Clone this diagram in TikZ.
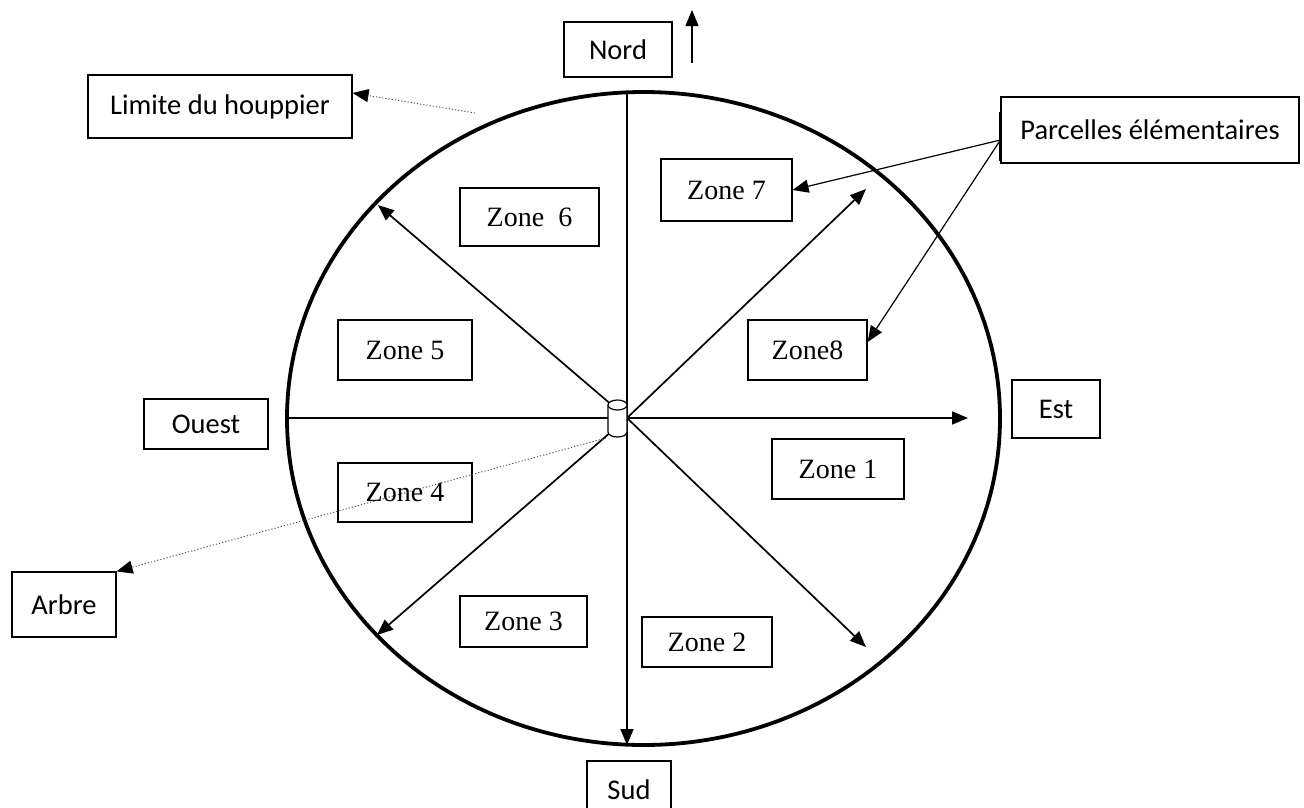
\documentclass[tikz,border=0pt]{standalone}
\usepackage{fontspec}
\setmainfont{Liberation Serif}
\newfontfamily\calibri{Carlito}
\usetikzlibrary{arrows.meta}

\begin{document}
\begin{tikzpicture}[x=1pt, y=-1pt]
	\tikzset{
		box/.style={draw, line width=1.2pt, inner sep=0pt, font=\calibri\fontsize{28.5}{33}\selectfont},
		zone node/.style={draw, line width=1.2pt, inner sep=0pt, font=\fontsize{28}{33}\selectfont},
		ray/.style={line width=1.7pt, -{Triangle[length=16pt, width=13pt]}},
		pointer/.style={line width=1.2pt, -{Triangle[length=16pt, width=13pt]}},
		hint/.style={line width=0.9pt, black!70, dash pattern=on 1.2pt off 2pt, -{Triangle[length=16pt, width=13pt, black]}}
	}
	\useasboundingbox (0,0) rectangle (1304,807);

	% Crown limit
	\draw[line width=3.8pt] (643.5,418.5) ellipse [x radius=356.5, y radius=326.5];

	% Center and ray ends
	\coordinate (c) at (627,418);
	\coordinate (n) at (627,92);
	\coordinate (s) at (627,745);
	\coordinate (w) at (287,418);
	\coordinate (e) at (968,418);
	\coordinate (nw) at (378,205);
	\coordinate (ne) at (866,189);
	\coordinate (sw) at (377,635);
	\coordinate (se) at (866,647);

	\draw[ray] (n) -- (s);
	\draw[line width=1.7pt] (w) -- (c);
	\draw[ray] (c) -- (e);
	\foreach \t in {nw,ne,sw,se} {
		\draw[ray] (c) -- (\t);
	}

	% Tree
	\filldraw[fill=white, line width=1.2pt] (608,405) -- (608,432) arc[start angle=180, end angle=0, x radius=9.5, y radius=5] -- (627,405);
	\filldraw[fill=white, line width=1.2pt] (617.5,405) ellipse [x radius=9.5, y radius=5];
	\coordinate (foot) at (606,438);

	% Zones
	\node (z7) at (726.5,190) [zone node, minimum width=131pt, minimum height=62pt] {Zone 7};
	\node (z6) at (529.5,217) [zone node, minimum width=139pt, minimum height=58pt] {Zone~~6};
	\node (z5) at (405,350) [zone node, minimum width=134pt, minimum height=60pt] {Zone 5};
	\node (z8) at (807.5,350) [zone node, minimum width=119pt, minimum height=60pt] {Zone8};
	\node (z1) at (838,469) [zone node, minimum width=132pt, minimum height=60pt] {Zone 1};
	\node (z4) at (405,492.5) [zone node, minimum width=134pt, minimum height=59pt] {Zone 4};
	\node (z3) at (523.5,621.5) [zone node, minimum width=127pt, minimum height=51pt] {Zone 3};
	\node (z2) at (707,642) [zone node, minimum width=130pt, minimum height=50pt] {Zone 2};

	% Cardinal points
	\node (nord) at (618,49.5) [box, minimum width=108pt, minimum height=55pt] {Nord};
	\node (sud) at (629,790) [box, minimum width=84pt, minimum height=58pt] {Sud};
	\node (ouest) at (206,424) [box, minimum width=124pt, minimum height=50pt] {Ouest};
	\node (est) at (1056,409) [box, minimum width=88pt, minimum height=58pt] {Est};
	\coordinate (nbase) at (692,63);
	\coordinate (ntip) at (692,10);
	\draw[pointer] (nbase) -- (ntip);

	% Labels
	\node (lim) at (220,106.5) [box, minimum width=264pt, minimum height=63pt] {Limite du houppier\hspace{14pt}};
	\node (arbre) at (64,604.5) [box, minimum width=104pt, minimum height=65pt] {Arbre};
	\node (parc) at (1150,130) [box, minimum width=298pt, minimum height=66pt] {Parcelles élémentaires};
	\draw[line width=3pt] ([yshift=-16pt]parc.north west) -- ([yshift=3pt]parc.south west);

	\coordinate (rim) at (475,113);
	\draw[hint] (rim) -- ([yshift=13.5pt]lim.east);
	\draw[hint] (foot) -- (arbre.north east);
	\draw[pointer] ([yshift=-10pt]parc.west) -- (z7.east);
	\draw[pointer] ([yshift=-10pt]parc.west) -- ([yshift=8pt]z8.east);
\end{tikzpicture}
\end{document}
